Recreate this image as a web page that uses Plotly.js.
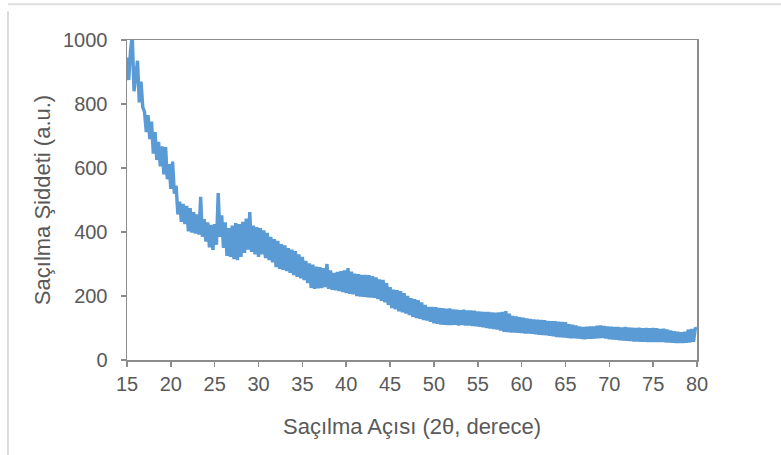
<!DOCTYPE html>
<html>
<head>
<meta charset="utf-8">
<script src="https://cdn.plot.ly/plotly-3.0.1.min.js"></script>
<style>
html,body{margin:0;padding:0;background:#fff;}
#chart{width:781px;height:455px;}
</style>
</head>
<body>
<div id="chart"></div>
<script>
// Scattering angle sampling (2θ, degrees)
const angleStart = 15;
const angleStep = 0.2;

// Scattering intensity (a.u.), 5 samples per degree
const intensity = [
  945, 875, 965, 1015, 840,   // 15
  880, 935, 805, 870, 790,    // 16
  775, 712, 765, 690, 745,    // 17
  645, 712, 625, 682, 605,    // 18
  668, 580, 665, 565, 612,    // 19
  535, 620, 520, 545, 455,    // 20
  495, 432, 488, 425, 482,    // 21
  402, 475, 398, 462, 395,    // 22
  455, 392, 510, 385, 440,    // 23
  370, 430, 352, 422, 344,    // 24
  425, 360, 522, 385, 452,    // 25
  350, 430, 325, 412, 322,    // 26
  420, 315, 428, 312, 425,    // 27
  322, 432, 335, 442, 345,    // 28
  462, 338, 420, 330, 415,    // 29
  322, 412, 330, 405, 318,    // 30
  397, 312, 385, 305, 378,    // 31
  290, 372, 285, 362, 282,    // 32
  358, 278, 350, 272, 345,    // 33
  265, 340, 260, 330, 255,    // 34
  322, 250, 310, 240, 302,    // 35
  225, 298, 222, 292, 224,    // 36
  290, 225, 287, 228, 300,    // 37
  222, 280, 219, 272, 218,    // 38
  275, 215, 278, 212, 280,    // 39
  209, 287, 207, 276, 205,    // 40
  270, 200, 268, 198, 266,    // 41
  197, 266, 196, 265, 195,    // 42
  262, 194, 258, 190, 252,    // 43
  185, 250, 180, 240, 172,    // 44
  228, 162, 220, 158, 218,    // 45
  152, 215, 149, 209, 145,    // 46
  200, 140, 193, 135, 190,    // 47
  131, 187, 129, 180, 125,    // 48
  172, 123, 166, 119, 166,    // 49
  115, 165, 113, 163, 111,    // 50
  162, 110, 160, 109, 161,    // 51
  109, 158, 110, 157, 108,    // 52
  156, 109, 157, 108, 155,    // 53
  108, 155, 106, 154, 105,    // 54
  152, 104, 151, 102, 150,    // 55
  100, 150, 98, 149, 97,      // 56
  148, 95, 149, 92, 150,      // 57
  88, 153, 87, 145, 86,       // 58
  138, 86, 136, 85, 134,      // 59
  84, 132, 83, 130, 83,       // 60
  128, 82, 127, 80, 126,      // 61
  79, 125, 78, 124, 77,       // 62
  122, 76, 121, 74, 121,      // 63
  72, 120, 71, 119, 70,       // 64
  118, 69, 112, 68, 110,      // 65
  68, 108, 67, 105, 66,       // 66
  103, 65, 104, 66, 105,      // 67
  66, 105, 67, 107, 68,       // 68
  108, 69, 106, 67, 105,      // 69
  65, 104, 64, 103, 63,       // 70
  103, 62, 102, 61, 103,      // 71
  60, 102, 59, 101, 58,       // 72
  100, 58, 101, 57, 99,       // 73
  57, 100, 56, 99, 56,        // 74
  100, 56, 99, 56, 97,        // 75
  56, 98, 55, 95, 55,         // 76
  92, 54, 90, 53, 88,         // 77
  53, 87, 53, 88, 54,         // 78
  95, 55, 97, 57, 98,         // 79
  100                         // 80
];

const xTickVals = [15, 20, 25, 30, 35, 40, 45, 50, 55, 60, 65, 70, 75, 80];
const yTickVals = [0, 200, 400, 600, 800, 1000];

const xTitle = 'Saçılma Açısı (2θ, derece)';
const yTitle = 'Saçılma Şiddeti (a.u.)';

const angles = intensity.map((_, i) => +(angleStart + i * angleStep).toFixed(2));

const axisColor = '#8c8c8c';
const textColor = '#595959';
const fontFamily = 'Arial, "Liberation Sans", sans-serif';

const trace = {
  x: angles,
  y: intensity,
  type: 'scatter',
  mode: 'lines',
  line: { color: '#5B9BD5', width: 3.4 },
  hoverinfo: 'x+y'
};

const layout = {
  width: 781,
  height: 455,
  margin: { l: 127, r: 84, t: 40, b: 95 },
  paper_bgcolor: '#ffffff',
  plot_bgcolor: '#ffffff',
  showlegend: false,
  font: { family: fontFamily, color: textColor, size: 20 },
  xaxis: {
    range: [15, 80],
    tickvals: xTickVals,
    ticktext: xTickVals.map(String),
    showgrid: false,
    zeroline: false,
    showline: true,
    mirror: true,
    linecolor: axisColor,
    linewidth: 1.5,
    ticks: 'outside',
    ticklen: 5,
    tickwidth: 1.5,
    tickcolor: axisColor,
    tickfont: { family: fontFamily, size: 20, color: textColor },
    title: { text: xTitle, font: { family: fontFamily, size: 22, color: textColor }, standoff: 25 }
  },
  yaxis: {
    range: [0, 1000],
    tickvals: yTickVals,
    ticktext: yTickVals.map(String),
    showgrid: false,
    zeroline: false,
    showline: true,
    mirror: true,
    linecolor: axisColor,
    linewidth: 1.5,
    ticks: 'outside',
    ticklen: 5,
    tickwidth: 1.5,
    tickcolor: axisColor,
    ticklabelstandoff: 9,
    tickfont: { family: fontFamily, size: 20, color: textColor },
    title: { text: yTitle, font: { family: fontFamily, size: 22, color: textColor }, standoff: 6 }
  },
  shapes: [
    { type: 'line', xref: 'paper', yref: 'paper', x0: -0.2088, x1: -0.2088, y0: 1.09, y1: -0.3, line: { color: '#d0d0d0', width: 1.5 } },
    { type: 'line', xref: 'paper', yref: 'paper', x0: -0.2088, x1: 1.15, y0: 1.112, y1: 1.112, line: { color: '#dedede', width: 2 } }
  ]
};

Plotly.newPlot('chart', [trace], layout, { displayModeBar: false, staticPlot: true });
</script>
</body>
</html>
